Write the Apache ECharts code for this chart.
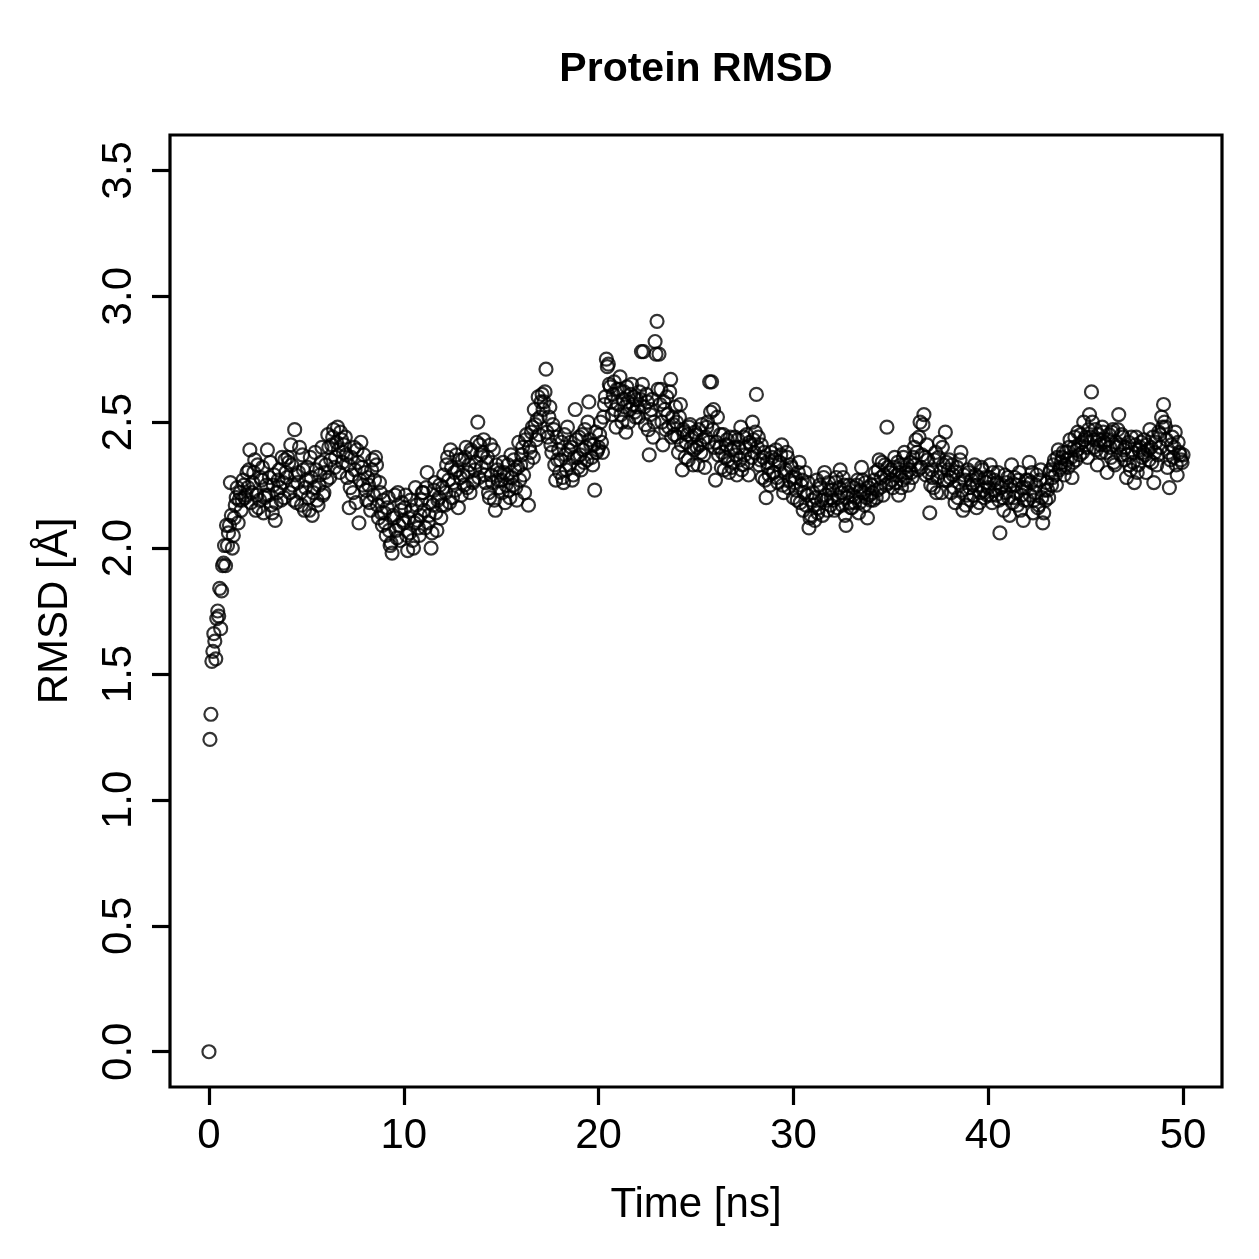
<!DOCTYPE html>
<html>
<head>
<meta charset="UTF-8">
<title>Protein RMSD</title>
<script src="https://cdn.jsdelivr.net/npm/echarts@6/dist/echarts.min.js"></script>
<style>
  html, body { margin: 0; padding: 0; background: #fff; }
  #chart { width: 1259px; height: 1259px; }
</style>
</head>
<body>
<div id="chart"></div>
<script type="text/javascript">
// sampling step of the trajectory, ns (frames at n + k*dt, plus in-between frames at +dt/2)
var dt = 0.1;
// RMSD per frame, one row per ns (10 frames each)
var rmsdRows = [
  [0.00, 1.34, 1.59, 1.63, 1.72, 1.73, 1.68, 1.93, 2.01, 2.09],
  [2.06, 2.26, 2.00, 2.12, 2.20, 2.10, 2.22, 2.19, 2.25, 2.21],
  [2.24, 2.39, 2.22, 2.30, 2.15, 2.33, 2.19, 2.27, 2.14, 2.21],
  [2.39, 2.28, 2.17, 2.25, 2.11, 2.22, 2.31, 2.19, 2.26, 2.35],
  [2.28, 2.34, 2.41, 2.25, 2.47, 2.18, 2.30, 2.22, 2.37, 2.15],
  [2.27, 2.20, 2.36, 2.13, 2.24, 2.31, 2.17, 2.29, 2.40, 2.22],
  [2.33, 2.45, 2.28, 2.41, 2.47, 2.36, 2.48, 2.30, 2.43, 2.38],
  [2.44, 2.28, 2.16, 2.36, 2.22, 2.31, 2.39, 2.10, 2.42, 2.25],
  [2.30, 2.19, 2.25, 2.15, 2.35, 2.27, 2.33, 2.12, 2.22, 2.09],
  [2.14, 2.05, 2.20, 2.01, 1.98, 2.12, 2.07, 2.22, 2.03, 2.18],
  [2.10, 2.21, 1.99, 2.06, 2.15, 2.00, 2.24, 2.11, 2.05, 2.19],
  [2.22, 2.08, 2.30, 2.13, 2.00, 2.17, 2.26, 2.07, 2.20, 2.12],
  [2.24, 2.17, 2.33, 2.27, 2.39, 2.20, 2.30, 2.37, 2.16, 2.28],
  [2.35, 2.25, 2.40, 2.30, 2.22, 2.38, 2.27, 2.34, 2.50, 2.41],
  [2.32, 2.43, 2.26, 2.36, 2.20, 2.29, 2.39, 2.15, 2.31, 2.24],
  [2.27, 2.34, 2.18, 2.29, 2.23, 2.37, 2.25, 2.31, 2.19, 2.42],
  [2.33, 2.40, 2.22, 2.45, 2.17, 2.38, 2.48, 2.55, 2.43, 2.60],
  [2.52, 2.61, 2.58, 2.71, 2.44, 2.56, 2.38, 2.47, 2.27, 2.35],
  [2.30, 2.42, 2.26, 2.37, 2.48, 2.33, 2.40, 2.29, 2.55, 2.36],
  [2.44, 2.31, 2.39, 2.47, 2.35, 2.58, 2.41, 2.33, 2.23, 2.38],
  [2.40, 2.50, 2.38, 2.57, 2.75, 2.73, 2.64, 2.53, 2.66, 2.48],
  [2.57, 2.68, 2.50, 2.62, 2.46, 2.58, 2.55, 2.65, 2.60, 2.52],
  [2.56, 2.62, 2.78, 2.78, 2.49, 2.58, 2.37, 2.55, 2.44, 2.82],
  [2.90, 2.77, 2.63, 2.41, 2.55, 2.60, 2.48, 2.67, 2.52, 2.45],
  [2.50, 2.38, 2.57, 2.31, 2.46, 2.42, 2.35, 2.49, 2.44, 2.39],
  [2.45, 2.33, 2.41, 2.49, 2.37, 2.44, 2.50, 2.66, 2.66, 2.55],
  [2.27, 2.52, 2.40, 2.32, 2.45, 2.36, 2.43, 2.30, 2.39, 2.34],
  [2.44, 2.29, 2.40, 2.48, 2.33, 2.37, 2.45, 2.29, 2.41, 2.50],
  [2.38, 2.61, 2.44, 2.35, 2.28, 2.38, 2.20, 2.32, 2.25, 2.36],
  [2.30, 2.39, 2.26, 2.34, 2.41, 2.22, 2.31, 2.36, 2.27, 2.32],
  [2.20, 2.28, 2.19, 2.34, 2.25, 2.15, 2.30, 2.21, 2.08, 2.13],
  [2.22, 2.11, 2.27, 2.16, 2.24, 2.13, 2.30, 2.19, 2.26, 2.17],
  [2.23, 2.15, 2.28, 2.20, 2.31, 2.17, 2.25, 2.09, 2.22, 2.18],
  [2.16, 2.24, 2.20, 2.27, 2.18, 2.32, 2.22, 2.26, 2.12, 2.21],
  [2.25, 2.19, 2.30, 2.23, 2.35, 2.28, 2.21, 2.33, 2.48, 2.26],
  [2.31, 2.24, 2.36, 2.29, 2.21, 2.33, 2.27, 2.38, 2.30, 2.25],
  [2.34, 2.28, 2.40, 2.43, 2.31, 2.50, 2.37, 2.53, 2.29, 2.35],
  [2.14, 2.31, 2.24, 2.38, 2.28, 2.42, 2.22, 2.33, 2.46, 2.27],
  [2.35, 2.22, 2.29, 2.18, 2.32, 2.26, 2.38, 2.15, 2.27, 2.21],
  [2.30, 2.19, 2.25, 2.33, 2.16, 2.28, 2.22, 2.31, 2.20, 2.26],
  [2.24, 2.33, 2.18, 2.27, 2.21, 2.30, 2.06, 2.25, 2.15, 2.22],
  [2.28, 2.13, 2.33, 2.20, 2.25, 2.17, 2.30, 2.21, 2.11, 2.24],
  [2.19, 2.34, 2.26, 2.14, 2.22, 2.29, 2.17, 2.31, 2.10, 2.23],
  [2.26, 2.20, 2.31, 2.28, 2.35, 2.25, 2.39, 2.32, 2.36, 2.29],
  [2.38, 2.32, 2.43, 2.28, 2.40, 2.35, 2.46, 2.37, 2.42, 2.50],
  [2.44, 2.36, 2.53, 2.62, 2.40, 2.47, 2.33, 2.43, 2.38, 2.46],
  [2.41, 2.30, 2.45, 2.36, 2.47, 2.33, 2.40, 2.53, 2.37, 2.44],
  [2.35, 2.28, 2.42, 2.31, 2.38, 2.26, 2.44, 2.33, 2.40, 2.36],
  [2.43, 2.30, 2.39, 2.47, 2.34, 2.26, 2.42, 2.37, 2.45, 2.52],
  [2.57, 2.48, 2.32, 2.24, 2.41, 2.36, 2.46, 2.29, 2.38, 2.35],
  [2.37]
];
// in-between frames (n + k*dt + dt/2), one row per ns
var rmsdMidRows = [
  [1.24, 1.55, 1.66, 1.56, 1.75, 1.84, 1.83, 1.94, 1.93, 2.01],
  [2.09, 2.13, 2.05, 2.17, 2.24, 2.19, 2.15, 2.27, 2.20, 2.30],
  [2.31, 2.18, 2.26, 2.35, 2.21, 2.16, 2.28, 2.32, 2.20, 2.25],
  [2.21, 2.34, 2.14, 2.29, 2.18, 2.27, 2.24, 2.36, 2.20, 2.30],
  [2.36, 2.22, 2.33, 2.19, 2.29, 2.26, 2.40, 2.17, 2.31, 2.24],
  [2.32, 2.15, 2.28, 2.22, 2.38, 2.19, 2.25, 2.34, 2.21, 2.30],
  [2.27, 2.40, 2.35, 2.44, 2.32, 2.42, 2.39, 2.46, 2.34, 2.41],
  [2.37, 2.33, 2.24, 2.29, 2.40, 2.18, 2.34, 2.27, 2.32, 2.37],
  [2.23, 2.28, 2.18, 2.31, 2.21, 2.36, 2.17, 2.26, 2.14, 2.19],
  [2.10, 2.16, 2.07, 2.02, 2.13, 2.21, 2.04, 2.09, 2.15, 2.11],
  [2.16, 2.05, 2.12, 2.19, 2.03, 2.10, 2.17, 2.08, 2.13, 2.22],
  [2.15, 2.24, 2.10, 2.18, 2.06, 2.23, 2.14, 2.19, 2.25, 2.17],
  [2.29, 2.22, 2.36, 2.18, 2.32, 2.26, 2.23, 2.31, 2.35, 2.21],
  [2.29, 2.36, 2.24, 2.33, 2.39, 2.26, 2.31, 2.42, 2.28, 2.37],
  [2.38, 2.29, 2.34, 2.22, 2.41, 2.26, 2.19, 2.33, 2.27, 2.30],
  [2.22, 2.30, 2.25, 2.33, 2.20, 2.28, 2.35, 2.24, 2.32, 2.27],
  [2.37, 2.29, 2.43, 2.34, 2.40, 2.46, 2.36, 2.49, 2.51, 2.45],
  [2.58, 2.55, 2.62, 2.46, 2.52, 2.41, 2.49, 2.33, 2.44, 2.39],
  [2.35, 2.28, 2.45, 2.31, 2.39, 2.42, 2.27, 2.36, 2.43, 2.32],
  [2.37, 2.45, 2.34, 2.40, 2.50, 2.43, 2.36, 2.41, 2.46, 2.39],
  [2.45, 2.42, 2.52, 2.60, 2.72, 2.65, 2.58, 2.61, 2.55, 2.63],
  [2.63, 2.53, 2.59, 2.56, 2.64, 2.50, 2.61, 2.57, 2.54, 2.59],
  [2.52, 2.59, 2.65, 2.56, 2.61, 2.47, 2.53, 2.59, 2.50, 2.77],
  [2.63, 2.57, 2.50, 2.58, 2.47, 2.53, 2.62, 2.44, 2.49, 2.56],
  [2.44, 2.52, 2.41, 2.47, 2.36, 2.45, 2.48, 2.40, 2.33, 2.46],
  [2.40, 2.47, 2.38, 2.43, 2.32, 2.48, 2.42, 2.54, 2.47, 2.40],
  [2.42, 2.37, 2.45, 2.38, 2.31, 2.41, 2.35, 2.44, 2.32, 2.40],
  [2.37, 2.43, 2.35, 2.31, 2.44, 2.40, 2.34, 2.42, 2.36, 2.43],
  [2.46, 2.40, 2.33, 2.41, 2.36, 2.27, 2.34, 2.29, 2.38, 2.30],
  [2.35, 2.28, 2.33, 2.37, 2.25, 2.30, 2.38, 2.24, 2.33, 2.28],
  [2.26, 2.23, 2.30, 2.18, 2.27, 2.22, 2.17, 2.26, 2.12, 2.19],
  [2.17, 2.20, 2.14, 2.25, 2.19, 2.28, 2.21, 2.15, 2.23, 2.20],
  [2.19, 2.26, 2.16, 2.24, 2.22, 2.28, 2.13, 2.20, 2.25, 2.16],
  [2.21, 2.18, 2.25, 2.14, 2.23, 2.27, 2.17, 2.20, 2.24, 2.19],
  [2.22, 2.27, 2.20, 2.31, 2.24, 2.34, 2.29, 2.25, 2.32, 2.30],
  [2.27, 2.32, 2.26, 2.34, 2.30, 2.24, 2.36, 2.28, 2.33, 2.31],
  [2.30, 2.36, 2.33, 2.38, 2.44, 2.32, 2.49, 2.36, 2.41, 2.30],
  [2.25, 2.28, 2.35, 2.22, 2.36, 2.30, 2.40, 2.27, 2.34, 2.31],
  [2.28, 2.33, 2.24, 2.30, 2.20, 2.35, 2.23, 2.29, 2.17, 2.31],
  [2.24, 2.27, 2.21, 2.29, 2.25, 2.18, 2.32, 2.23, 2.28, 2.21],
  [2.28, 2.21, 2.30, 2.23, 2.26, 2.19, 2.24, 2.20, 2.29, 2.26],
  [2.20, 2.25, 2.18, 2.28, 2.22, 2.27, 2.15, 2.24, 2.19, 2.27],
  [2.27, 2.21, 2.30, 2.19, 2.25, 2.16, 2.27, 2.20, 2.14, 2.19],
  [2.23, 2.30, 2.25, 2.33, 2.29, 2.36, 2.31, 2.34, 2.38, 2.33],
  [2.35, 2.40, 2.36, 2.34, 2.44, 2.39, 2.41, 2.45, 2.38, 2.43],
  [2.40, 2.47, 2.44, 2.50, 2.43, 2.39, 2.45, 2.41, 2.48, 2.42],
  [2.38, 2.43, 2.40, 2.46, 2.34, 2.42, 2.47, 2.41, 2.45, 2.39],
  [2.40, 2.37, 2.33, 2.44, 2.34, 2.41, 2.30, 2.39, 2.42, 2.38],
  [2.37, 2.41, 2.35, 2.40, 2.44, 2.38, 2.33, 2.46, 2.40, 2.48],
  [2.50, 2.43, 2.38, 2.35, 2.44, 2.40, 2.33, 2.42, 2.37, 2.34]
];
var xTicks = [0, 10, 20, 30, 40, 50];
var yTicks = [0, 0.5, 1, 1.5, 2, 2.5, 3, 3.5];

var points = [];
for (var i = 0; i < rmsdRows.length; i++) {
  for (var k = 0; k < rmsdRows[i].length; k++) {
    points.push([+(i + k * dt).toFixed(3), rmsdRows[i][k]]);
    if (rmsdMidRows[i]) {
      points.push([+(i + k * dt + dt / 2).toFixed(3), rmsdMidRows[i][k]]);
    }
  }
}

var font = 'Liberation Sans, Arial, Helvetica, sans-serif';
var chart = echarts.init(document.getElementById('chart'));
chart.setOption({
  animation: false,
  backgroundColor: '#fff',
  graphic: [{
    type: 'text', x: 696, y: 70,
    style: {
      text: 'Protein RMSD', fill: '#000', font: 'bold 41px ' + font,
      textAlign: 'center', textVerticalAlign: 'middle'
    }
  }],
  grid: {
    left: 170, top: 135, right: 37, bottom: 172,
    show: true, borderColor: '#000', borderWidth: 3.2, backgroundColor: 'transparent'
  },
  xAxis: {
    type: 'value', min: -2, max: 52,
    axisLine: { show: false, onZero: false },
    splitLine: { show: false },
    axisTick: { show: true, inside: false, customValues: xTicks, length: 18, lineStyle: { color: '#000', width: 3.2 } },
    axisLabel: {
      customValues: xTicks, margin: 28, color: '#000', fontFamily: font, fontSize: 42
    },
    name: 'Time [ns]', nameLocation: 'middle', nameGap: 97,
    nameTextStyle: { color: '#000', fontFamily: font, fontSize: 42 }
  },
  yAxis: {
    type: 'value', min: -0.14, max: 3.64,
    axisLine: { show: false, onZero: false },
    splitLine: { show: false },
    axisTick: { show: true, inside: false, customValues: yTicks, length: 18, lineStyle: { color: '#000', width: 3.2 } },
    axisLabel: {
      customValues: yTicks, margin: 30, rotate: 90, color: '#000', fontFamily: font, fontSize: 42,
      formatter: function (v) { return v.toFixed(1); }
    },
    name: 'RMSD [Å]', nameLocation: 'middle', nameGap: 94, nameRotate: 90,
    nameTextStyle: { color: '#000', fontFamily: font, fontSize: 42 }
  },
  series: [{
    type: 'scatter',
    data: points,
    symbol: 'circle',
    symbolSize: 13,
    itemStyle: { color: 'transparent', borderColor: '#000', borderWidth: 2.2 },
    emphasis: { disabled: true }
  }]
});
</script>
</body>
</html>
